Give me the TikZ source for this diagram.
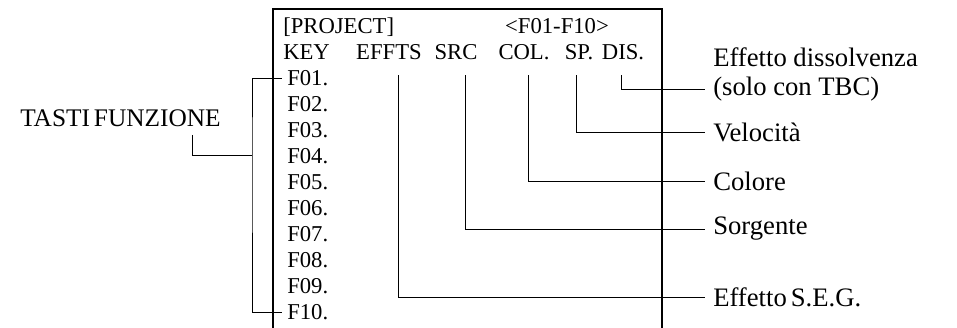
\documentclass[tikz,border=0pt]{standalone}
\usepackage{fontspec}
\setmainfont{Liberation Serif}
\usetikzlibrary{positioning}
\tikzset{
    scr/.style={font=\fontsize{17}{20}\selectfont, inner sep=0pt, anchor=west},
    hdr/.style={font=\fontsize{17}{20}\selectfont, inner sep=0pt},
    lbl/.style={font=\fontsize{20}{23}\selectfont, inner sep=0pt, anchor=west},
    frame/.style={line width=1.6pt},
    lead/.style={line width=0.7pt},
}
\newcommand{\tight}{\spaceskip=3pt}

\begin{document}
\begin{tikzpicture}[x=0.75pt, y=-0.75pt]
    \useasboundingbox (0,0) rectangle (957,328);
    % screen
    \draw[frame] (273,328) |- (662,9) -- (662,328);
    \node[scr] (proj) at (283,27) {[PROJECT]};
    \node[hdr] (range) at (557,26) {<F01-F10>};
    \node[scr] (key) at (283,52) {KEY};
    \node[hdr] (effts) at (389,52) {EFFTS};
    \node[hdr] (src) at (456,52) {SRC};
    \node[hdr] (col) at (524,52) {COL.};
    \node[hdr] (sp) at (579,52) {SP.};
    \node[hdr] (dis) at (623,52) {DIS.};
    \foreach \k [count=\n from 0] in {01,02,03,04,05,06,07,08,09,10}
        \node[scr] (f\k) at (287,{78+26*\n}) {F\k.};
    % labels
    \node[lbl, font=\fontsize{19}{22}\selectfont] (tasti) at (20,118) {\tight TASTI FUNZIONE};
    \node[lbl] (dissa) at (713,57) {Effetto dissolvenza};
    \node[lbl] (dissb) at (713,89) {(solo con TBC)};
    \node[lbl] (velo) at (713,132) {Velocità};
    \node[lbl] (colore) at (713,181) {Colore};
    \node[lbl] (sorg) at (713,229) {Sorgente};
    \node[lbl] (seg) at (713,297) {\tight Effetto S.E.G.};
    % leaders
    \coordinate (brk) at (252,155);
    \draw[lead] ([xshift=-4pt]f01.west) -| (brk) |- ([xshift=-4pt]f10.west);
    \draw[lead] ([xshift=-21pt, yshift=-6pt]tasti.south east) |- (brk);
    \draw[lead] ([xshift=7pt, yshift=-11.5pt]effts.south) |- ([xshift=-6pt]seg.west);
    \draw[lead] ([xshift=7pt, yshift=-11.5pt]src.south) |- ([xshift=-6pt]sorg.west);
    \draw[lead] ([xshift=3pt, yshift=-11.5pt]col.south) |- ([xshift=-6pt]colore.west);
    \draw[lead] ([xshift=-2pt, yshift=-11.5pt]sp.south) |- ([xshift=-6pt]velo.west);
    \draw[lead] ([xshift=-1pt, yshift=-11.5pt]dis.south) |- ([xshift=-6pt]dissb.west);
\end{tikzpicture}
\end{document}
